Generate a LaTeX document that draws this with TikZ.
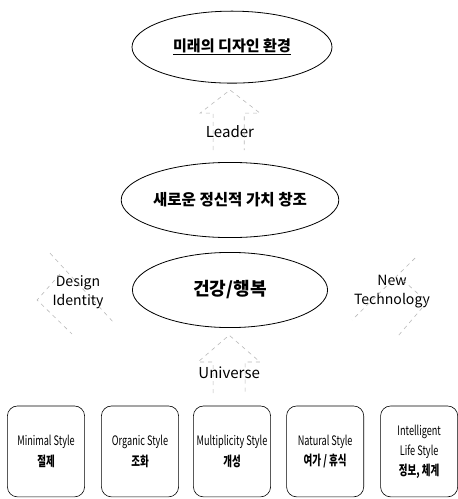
\documentclass[tikz,border=0pt]{standalone}
\usepackage{fontspec}
\setmainfont{Noto Sans CJK KR}
\newfontfamily\boxfont[FakeStretch=0.7]{Noto Sans CJK KR}
\usepackage{tikz}
\usetikzlibrary{shapes.geometric}

\newcommand{\kor}[1]{{\bfseries\fontsize{13.5}{20}\selectfont #1}}

\tikzset{
  oval/.style={draw, ellipse, thick, inner sep=0pt},
  stylebox/.style={draw, semithick, rounded corners=0.35cm, minimum width=2.7cm, minimum height=3.18cm, inner xsep=1pt, align=center, font=\boxfont\fontsize{13}{20}\selectfont},
  faint/.style={gray!55, semithick, dash pattern=on 4pt off 4pt},
  tag/.style={align=center, font=\fontsize{14}{19}\selectfont}
}

\begin{document}
\begin{tikzpicture}
            \useasboundingbox (0,0) rectangle (16.0,-17.465);
            % Elipses
            \node[oval, minimum width=7.0cm, minimum height=2.52cm, font=\bfseries\fontsize{15}{18}\selectfont] (futuro) at (8.12,-1.65) {\underline{미래의 디자인 환경}};
            \node[oval, minimum width=6.86cm, minimum height=2.63cm, font=\bfseries\fontsize{15.5}{18}\selectfont] (valor) at (8.05,-7.0) {새로운 정신적 가치 창조};
            \node[oval, minimum width=6.83cm, minimum height=2.63cm, font=\bfseries\fontsize{18}{20}\selectfont] (salud) at (8.05,-10.15) {건강/행복};

            % Etiquetas
            \node[tag, font=\fontsize{15}{18}\selectfont] (leader) at (8.05,-4.62) {Leader};
            \node[tag, font=\fontsize{15}{18}\selectfont] (universe) at (8.02,-13.06) {Universe};
            \node[tag] (design) at (2.73,-10.22) {Design\\Identity};
            \node[tag] (tech) at (13.72,-10.19) {New\\Technology};

            % Flechas
            \draw[faint] (7.46,-5.25) -- (7.46,-3.96) -- (7.0,-3.96) -- (8.05,-3.15) -- (9.1,-3.96) -- (8.55,-3.96) -- (8.55,-5.25);
            \draw[faint] (7.46,-13.76) -- (7.46,-12.67) -- (6.93,-12.67) -- (8.02,-11.73) -- (9.1,-12.67) -- (8.58,-12.67) -- (8.58,-13.76);
            \draw[faint] (1.75,-8.86) -- (3.96,-11.27);
            \draw[faint] (2.1,-9.59) -- (1.3,-10.5) -- (2.52,-11.69);
            \draw[faint] (14.53,-9.03) -- (12.32,-11.2);
            \draw[faint] (14.1,-9.8) -- (14.95,-10.57) -- (13.93,-11.76);

            % Cajas
            \node[stylebox] (minimal) at (1.61,-15.8) {Minimal Style\\\kor{절제}};
            \node[stylebox] (organic) at (4.9,-15.8) {Organic Style\\\kor{조화}};
            \node[stylebox] (multi) at (8.12,-15.8) {Multiplicity Style\\\kor{개성}};
            \node[stylebox] (natural) at (11.38,-15.8) {Natural Style\\\kor{여가 / 휴식}};
            \node[stylebox] (intel) at (14.67,-15.8) {Intelligent\\Life Style\\\kor{정보, 체계}};
          \end{tikzpicture}
\end{document}
